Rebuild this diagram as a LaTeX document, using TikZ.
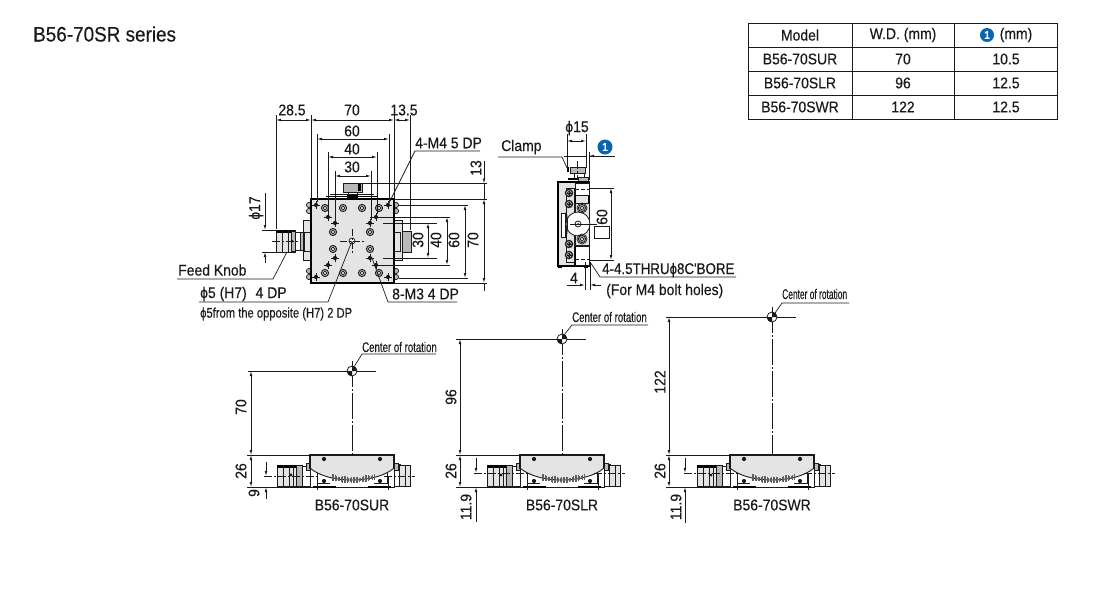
\documentclass[tikz,border=0pt]{standalone}
\usepackage{fontspec}
\setmainfont{Liberation Sans}[FakeStretch=0.9,FakeBold=0.3]
\newfontfamily\fcondA{Liberation Sans}[FakeStretch=0.8,FakeBold=0.2]
\newfontfamily\fcondB{Liberation Sans}[FakeStretch=0.69,FakeBold=0.2]
\newfontfamily\fcondC{Liberation Sans}[FakeStretch=0.6,FakeBold=0.2]
\newfontfamily\fcondD{Liberation Sans}[FakeStretch=0.86,FakeBold=0.3]
\usetikzlibrary{arrows.meta}
\definecolor{ink}{HTML}{1A1A1A}
\definecolor{plate}{HTML}{E4E4E4}
\definecolor{midg}{HTML}{B8B8B8}
\definecolor{bluedot}{HTML}{0A64AE}
\tikzset{
  lbl/.style={font=\fontsize{15.5}{18}\selectfont,inner sep=0pt,text=ink},
  lblv/.style={lbl,rotate=90},
  thin line/.style={draw=ink,line width=0.7pt},
  dimline/.style={draw=ink,line width=0.7pt,{Latex[length=5pt,width=2.6pt]}-{Latex[length=5pt,width=2.6pt]}},
  arrowout/.style={draw=ink,line width=0.7pt,-{Latex[length=5pt,width=2.6pt]}},
  cline/.style={draw=ink,line width=0.6pt,dash pattern=on 26pt off 2pt on 2pt off 2pt},
  shortc/.style={draw=ink,line width=0.6pt,dash pattern=on 8pt off 2pt on 2pt off 2pt},
  tabline/.style={draw=ink,line width=0.8pt},
}
\newcommand\ringhole[2]{%
  \fill[midg,draw=ink,line width=0.9pt] (#1,#2) circle (3.6);
  \draw[ink,line width=0.7pt,fill=white] (#1,#2) circle (1.8);
}
\newcommand\dothole[2]{%
  \fill[ink] (#1,#2) circle (2.1);
  \draw[ink,line width=0.5pt] (#1-4,#2) -- (#1+4,#2) (#1,#2-4) -- (#1,#2+4);
}
\newcommand\screwhole[2]{%
  \fill[midg,draw=ink,line width=1.2pt] (#1,#2) circle (3.6);
  \draw[ink,line width=0.7pt,fill=white] (#1,#2) circle (1.6);
  \draw[ink,line width=0.5pt] (#1-2.5,#2) -- (#1+2.5,#2) (#1,#2-2.5) -- (#1,#2+2.5);
}
% one stage seen from the side; #1 = height of its horizontal centre line
\newcommand\sidestage[1]{%
  % left knob
  \fill[plate,draw=ink,line width=0.6pt] (277,465) rectangle (302,486);
  \fill[black] (277,465) rectangle (299,467.5);
  \draw[ink,line width=0.9pt] (283,465) -- (283,486) (289,465) -- (289,486) (293.5,465) -- (293.5,486) (296,465) -- (296,486);
  \fill[midg,draw=ink,line width=0.6pt] (296,465.5) rectangle (302,486);
  \fill[ink] (291,475) circle (1.6);
  \fill[white,draw=ink,line width=0.7pt] (302,466) rectangle (310,486);
  \fill[midg,draw=ink,line width=0.6pt] (306,463) rectangle (311,470);
  % right knob
  \fill[white,draw=ink,line width=0.7pt] (393,464) rectangle (400,486);
  \fill[midg,draw=ink,line width=0.6pt] (393,463) rectangle (398,470);
  \fill[plate,draw=ink,line width=0.7pt] (399,465) rectangle (410,486);
  \draw[ink,line width=0.9pt] (405,465) -- (405,486);
  % body
  \fill[white,draw=ink,line width=0.9pt] (310,465) rectangle (394,487);
  \fill[plate] (311,456) -- (393,456) -- (393,468) .. controls (376,484) and (328,484) .. (311,468) -- cycle;
  \draw[ink,line width=1.1pt] (310,469) -- (310,455) -- (394,455) -- (394,469);
  \draw[ink,line width=0.9pt] (310,468) .. controls (328,484) and (376,484) .. (394,468);
  \draw[black,line width=1.3pt] (313,487) -- (336,487) (368,487) -- (391,487);
  \draw[ink,line width=0.7pt] (317,473) -- (317,483) -- (330,483) (387,473) -- (387,483) -- (374,483);
  \foreach \tx in {332,333.5,...,374}{%
    \pgfmathsetmacro\ty{480-12*((\tx-352)/42)^2}
    \pgfmathsetmacro\tl{1.6+1.8*abs(sin(\tx*17))}
    \draw[ink!70,line width=0.45pt] (\tx,\ty-\tl) -- (\tx,\ty+\tl);
  }
  \fill[ink] (324,459) circle (2.1) (380,459) circle (2.1) (324,481) circle (2.1) (380,481) circle (2.1);
  % centre lines
  \draw[shortc] (264,#1) -- (320,#1) (384,#1) -- (415,#1);
  \draw[ink,line width=0.6pt] (317,#1) -- (317,490) (388,#1) -- (388,490);
}
\begin{document}
\begin{tikzpicture}[x=1pt,y=-1pt]
\useasboundingbox (0,0) rectangle (1100,600);
\fill[white] (0,0) rectangle (1100,600);

% ---------- title
\node[lbl,anchor=west,font=\fontsize{21}{24}\selectfont] (title) at (33,34) {B56-70SR series};

% ---------- table
\draw[tabline] (748,23) rectangle (1057,119);
\foreach \yy in {47,71,95} \draw[tabline] (748,\yy) -- (1057,\yy);
\foreach \xx in {852,954} \draw[tabline] (\xx,23) -- (\xx,119);
\node[lbl] (h1) at (800,35) {Model};
\node[lbl] (h2) at (903,35) {W.D. (mm)};
\fill[bluedot] (987,35) circle (7);
\node[lbl,text=white,font=\bfseries\fontsize{11}{12}\selectfont] (h3a) at (987,35) {1};
\node[lbl] (h3) at (1016,35) {(mm)};
\node[lbl] (r1a) at (800,59) {B56-70SUR};
\node[lbl] (r1b) at (903,59) {70};
\node[lbl] (r1c) at (1006,59) {10.5};
\node[lbl] (r2a) at (800,83) {B56-70SLR};
\node[lbl] (r2b) at (903,83) {96};
\node[lbl] (r2c) at (1006,83) {12.5};
\node[lbl] (r3a) at (800,107) {B56-70SWR};
\node[lbl] (r3b) at (903,107) {122};
\node[lbl] (r3c) at (1006,107) {12.5};

% ---------- top view: shapes
\fill[plate,draw=ink,line width=0.7pt] (276,230) rectangle (295,252);
\fill[black] (276,230) rectangle (294,232.5);
\draw[ink,line width=0.9pt] (282,230) -- (282,252) (288,230) -- (288,252) (291,230) -- (291,252);
\fill[midg,draw=ink,line width=0.6pt] (291,231) rectangle (295,251);
\fill[ink] (292,241) circle (1.5);
\fill[white,draw=ink,line width=0.8pt] (295,232) rectangle (303,250);
\fill[midg,draw=ink,line width=0.8pt] (300,232) rectangle (303,250);
\fill[plate,draw=ink,line width=0.8pt] (303,220) rectangle (311,260);
\draw[ink,line width=0.8pt] (304,232) rectangle (311,251);
\foreach \yy in {205,211,271,277} \fill[midg,draw=ink,line width=0.7pt] (309,\yy) circle (2.6);
\foreach \yy in {205,211,271,277} \fill[midg,draw=ink,line width=0.7pt] (396,\yy) circle (2.6);
\fill[plate,draw=ink,line width=0.8pt] (394,220) rectangle (402,260);
\draw[ink,line width=0.8pt] (394,232) rectangle (400,251);
\fill[midg,draw=ink,line width=0.8pt] (402,231) rectangle (411,252);
% clamp on top
\fill[midg,draw=ink,line width=0.8pt] (343,183) rectangle (362,192);
\fill[black] (358,184) rectangle (361,191);
\fill[white,draw=ink,line width=0.8pt] (348,192) rectangle (357,196);
\fill[black] (347,194) rectangle (358,198);
\draw[black,line width=1.4pt] (326,196.5) -- (378,196.5);
\draw[ink,line width=0.6pt] (330,194.5) -- (374,194.5);
% body
\fill[plate] (311,199) rectangle (394,283);
\draw[black,line width=1.6pt] (311,199) rectangle (394,283);
\foreach \xx in {325,343,362,379} {\ringhole{\xx}{208}\ringhole{\xx}{273}}
\foreach \xx in {333,370} {\ringhole{\xx}{232}\ringhole{\xx}{249}}
\foreach \xx/\yy in {316/205,388/205,316/277,388/277,328/217,335/223,376/217,370/223,328/265,335/258,370/258,376/265} {\dothole{\xx}{\yy}}
\fill[white,draw=ink,line width=0.7pt] (352,241) circle (3);
\draw[ink,line width=0.5pt,dash pattern=on 7pt off 2pt on 2pt off 2pt] (340,241) -- (364,241) (352,229) -- (352,253);

% ---------- top view: extension lines
\draw[thin line] (276,115) -- (276,229);
\draw[thin line] (311,115) -- (311,198);
\draw[thin line] (394,115) -- (394,198);
\draw[thin line] (410,115) -- (410,230);
\draw[thin line] (317,134) -- (317,202);
\draw[thin line] (389,134) -- (389,202);
\draw[thin line] (328,152) -- (328,214);
\draw[thin line] (377,152) -- (377,214);
\draw[thin line] (335,171) -- (335,220);
\draw[thin line] (371,171) -- (371,220);
\draw[thin line] (363,183.5) -- (487,183.5);
\draw[thin line] (394,199) -- (487,199);
\draw[thin line] (394,283) -- (487,283);
\draw[thin line] (399,205) -- (468,205);
\draw[thin line] (399,278) -- (468,278);
\draw[thin line] (370,217) -- (450,217);
\draw[thin line] (383,223) -- (437,223);
\draw[thin line] (383,258) -- (437,258);
\draw[thin line] (377,265) -- (450,265);
\draw[thin line] (262,230) -- (280,230) (262,252) -- (280,252);
\draw[shortc] (272,241) -- (300,241);

% ---------- top view: dimensions
\draw[dimline] (276,120) -- (311,120);
\draw[dimline] (311,120) -- (394,120);
\draw[dimline] (394,120) -- (410,120);
\draw[dimline] (317,139) -- (389,139);
\draw[dimline] (328,157) -- (377,157);
\draw[dimline] (335,176) -- (371,176);
\draw[dimline] (428,223) -- (428,258);
\draw[dimline] (447,217) -- (447,265);
\draw[dimline] (465,205) -- (465,278);
\draw[arrowout] (484,161) -- (484,183.5);
\draw[dimline] (484,199) -- (484,283);
\draw[thin line] (484,183.5) -- (484,199);
\draw[thin line] (484,283) -- (484,291);
\draw[arrowout] (265,193) -- (265,230);
\draw[arrowout] (265,263) -- (265,252);

\node[lbl] (d285) at (292,110) {28.5};
\node[lbl] (d70) at (352,110) {70};
\node[lbl] (d135) at (404,110) {13.5};
\node[lbl] (d60) at (352,131) {60};
\node[lbl] (d40) at (352,149) {40};
\node[lbl] (d30) at (352,167) {30};
\node[lblv] (d13) at (476,168) {13};
\node[lblv] (dv30) at (418,240) {30};
\node[lblv] (dv40) at (436,240) {40};
\node[lblv] (dv60) at (454,240) {60};
\node[lblv] (dv70) at (473,240) {70};
\node[lblv] (dphi17) at (256,208) {ϕ17};

% ---------- top view: leaders
\node[lbl,anchor=west] (m4) at (415,143) {4-M4 5 DP};
\coordinate (m4u) at (415,151);
\coordinate (m4h) at (388,205);
\draw[thin line] (480,151) -- (m4u) -- (m4h);
\node[lbl,anchor=west] (m3) at (392,294) {8-M3 4 DP};
\coordinate (m3u) at (388,302);
\coordinate (m3h) at (372,258);
\draw[thin line] (457,302) -- (m3u) -- (m3h);
\node[lbl,anchor=west] (feed) at (178,270) {Feed Knob};
\coordinate (feedu) at (273,279);
\coordinate (feedk) at (287,252);
\draw[thin line] (177,279) -- (feedu) -- (feedk);
\node[lbl,anchor=west] (phi5) at (200,294) {ϕ5 (H7)\hspace{5pt} 4 DP};
\coordinate (phi5u) at (328,302);
\coordinate (phi5c) at (352,241);
\draw[thin line] (199,302) -- (phi5u) -- (phi5c);
\node[lbl,anchor=west,font=\fcondA\fontsize{14}{16}\selectfont] (phi5b) at (200,314) {ϕ5from the opposite (H7) 2 DP};

% ---------- side view: shapes
\fill[midg,draw=ink,line width=0.8pt] (570,167) rectangle (585,173);
\fill[white,draw=ink,line width=0.7pt] (574,173) rectangle (584,178);
\fill[black] (566.5,167) rectangle (569,172);
\fill[black] (568,177.5) rectangle (579,180);
\fill[midg,draw=ink,line width=0.7pt] (578,177) rectangle (588,182);
\fill[plate] (558,182) rectangle (589,266);
\draw[black,line width=1.3pt] (558,182) rectangle (589,266);
\fill[white,draw=ink,line width=0.7pt] (575,183) rectangle (589,195);
\fill[white,draw=ink,line width=0.7pt] (575,246) rectangle (589,265);
\draw[ink,line width=0.7pt,dash pattern=on 4pt off 2pt] (575,189) -- (589,189) (575,259) -- (589,259);
\draw[black,line width=1.3pt] (575,195) -- (575,206) (575,242) -- (575,265);
\fill[white,draw=ink,line width=0.7pt] (561,213) rectangle (565,237);
\draw[ink,line width=0.9pt] (566,188) rectangle (574,262);
\fill[plate,draw=ink,line width=0.7pt] (575,203) rectangle (589,245);
\fill[white,draw=ink,line width=0.8pt] (578,224) circle (12);
\foreach \yy in {193,204,244,255} {\screwhole{569}{\yy}}
\foreach \yy in {208,239} {\ringhole{582}{\yy}\draw[ink,line width=0.7pt] (582,\yy) circle (5);}
\draw[ink,line width=0.8pt,fill=white] (578,224) circle (3);
\fill[ink] (578,224) circle (1);
\draw[ink,line width=0.6pt] (570,224) -- (597,224);
\draw[ink,line width=0.9pt] (566,212) .. controls (568,218) and (568,230) .. (566,237);
\fill[black] (558,265) rectangle (562,268);
\fill[black] (584,265) rectangle (588,268);
\draw[shortc] (577,161) -- (577,180);

% ---------- side view: dimensions
\draw[thin line] (567,134) -- (567,168);
\draw[thin line] (586,134) -- (586,168);
\draw[dimline] (567,141) -- (586,141);
\node[lbl] (d15) at (577,128) {ϕ15};
\fill[bluedot] (605,147) circle (7.5);
\node[lbl,text=white,font=\bfseries\fontsize{11.5}{12}\selectfont] (mark) at (605,147) {1};
\draw[thin line] (564,156) -- (586,156);
\draw[thin line] (589,156) -- (615,156);
\draw[arrowout] (600,156) -- (589,156);
\draw[thin line] (589,152) -- (589,180);
\draw[thin line] (590,188) -- (614,188);
\draw[thin line] (590,260) -- (614,260);
\draw[dimline] (611,188) -- (611,260);
\node[lblv] (d60s) at (602,217) {60};
\fill[white,draw=ink,line width=0.8pt] (594,226) rectangle (609,238);

\node[lbl,anchor=west] (clamp) at (501,147) {Clamp};
\coordinate (clampu) at (562,157);
\coordinate (clampk) at (568,170);
\draw[thin line] (498,157) -- (clampu) -- (clampk);

\draw[thin line] (585,262) -- (585,290);
\draw[thin line] (590,262) -- (590,290);
\draw[arrowout] (567,285) -- (585,285);
\draw[arrowout] (601,285) -- (590,285);
\node[lbl] (d4) at (574,278) {4};
\node[lbl,anchor=west,font=\fcondD\fontsize{15.5}{18}\selectfont] (bore) at (602,270) {4-4.5THRUϕ8C'BORE};
\coordinate (boreu) at (600,277);
\coordinate (borek) at (590,262);
\draw[thin line] (736,277) -- (boreu) -- (borek);
\node[lbl,anchor=west] (bolt) at (606,291) {(For M4 bolt holes)};

% ---------- lower views
\sidestage{476}
\begin{scope}[xshift=210pt]\sidestage{473}\end{scope}
\begin{scope}[xshift=420pt]\sidestage{473}\end{scope}

% SUR
\draw[thin line] (248,371) -- (376,371);
\draw[thin line] (247,455) -- (310,455);
\draw[thin line] (247,487) -- (310,487);
\draw[cline] (352,361) -- (352,455);
\draw[dimline] (251,371) -- (251,455);
\draw[dimline] (251,455) -- (251,487);
\draw[arrowout] (266,462) -- (266,476);
\draw[arrowout] (266,499) -- (266,487);
\fill[white,draw=ink,line width=0.8pt] (352,371) circle (5);
\fill[ink] (352,371) -- (347,371) arc (180:90:5) -- cycle;
\fill[ink] (352,371) -- (357,371) arc (0:-90:5) -- cycle;
\node[lblv] (a70) at (241,407) {70};
\node[lblv] (a26) at (241,471) {26};
\node[lblv] (a9) at (254,493) {9};
\node[lbl] (aname) at (352,505) {B56-70SUR};
\node[lbl,anchor=west,font=\fcondB\fontsize{14}{16}\selectfont] (acr) at (362,347) {Center of rotation};
\coordinate (acru) at (362,354);
\coordinate (acrc) at (354,367);
\draw[thin line] (436,354) -- (acru) -- (acrc);

% SLR
\draw[thin line] (456,339) -- (586,339);
\draw[thin line] (456,455) -- (520,455);
\draw[thin line] (456,487) -- (520,487);
\draw[cline] (562,329) -- (562,455);
\draw[dimline] (460,339) -- (460,455);
\draw[dimline] (460,455) -- (460,487);
\draw[arrowout] (476,458) -- (476,473);
\draw[arrowout] (476,522) -- (476,487);
\fill[white,draw=ink,line width=0.8pt] (562,339) circle (5);
\fill[ink] (562,339) -- (557,339) arc (180:90:5) -- cycle;
\fill[ink] (562,339) -- (567,339) arc (0:-90:5) -- cycle;
\node[lblv] (b96) at (451,397) {96};
\node[lblv] (b26) at (451,471) {26};
\node[lblv] (b119) at (466,507) {11.9};
\node[lbl] (bname) at (562,505) {B56-70SLR};
\node[lbl,anchor=west,font=\fcondB\fontsize{14}{16}\selectfont] (bcr) at (572,317) {Center of rotation};
\coordinate (bcru) at (572,325);
\coordinate (bcrc) at (564,335);
\draw[thin line] (648,325) -- (bcru) -- (bcrc);

% SWR
\draw[thin line] (666,317) -- (796,317);
\draw[thin line] (666,455) -- (730,455);
\draw[thin line] (666,487) -- (730,487);
\draw[cline] (772,307) -- (772,455);
\draw[dimline] (669,317) -- (669,455);
\draw[dimline] (669,455) -- (669,487);
\draw[arrowout] (685,458) -- (685,473);
\draw[arrowout] (685,523) -- (685,487);
\fill[white,draw=ink,line width=0.8pt] (772,317) circle (5);
\fill[ink] (772,317) -- (767,317) arc (180:90:5) -- cycle;
\fill[ink] (772,317) -- (777,317) arc (0:-90:5) -- cycle;
\node[lblv] (c122) at (660,382) {122};
\node[lblv] (c26) at (660,471) {26};
\node[lblv] (c119) at (676,507) {11.9};
\node[lbl] (cname) at (772,505) {B56-70SWR};
\node[lbl,anchor=west,font=\fcondC\fontsize{14}{16}\selectfont] (ccr) at (782,294) {Center of rotation};
\coordinate (ccru) at (782,303);
\coordinate (ccrc) at (775,313);
\draw[thin line] (849,303) -- (ccru) -- (ccrc);
\end{tikzpicture}
\end{document}
